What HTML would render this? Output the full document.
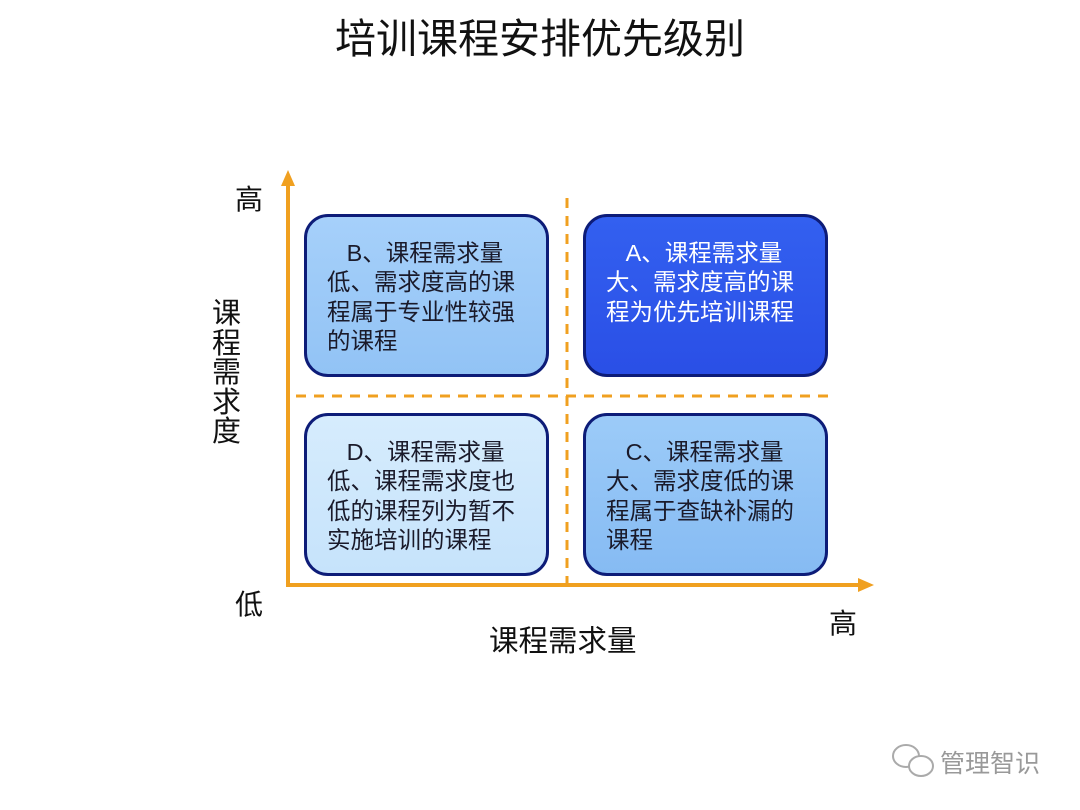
<!DOCTYPE html>
<html><head><meta charset="utf-8"><style>
body{margin:0;width:1080px;height:810px;background:#fff;position:relative;overflow:hidden;font-family:"Liberation Sans","Noto Sans CJK SC",sans-serif;}
.t{position:absolute;white-space:nowrap;color:#111;}
.box{position:absolute;width:239px;height:157px;border:3px solid #0d1c78;border-radius:24px;box-sizing:content-box;}
.box div{position:absolute;left:20px;top:22px;font-size:23.5px;line-height:29.3px;color:#1a1a2a;width:230px;}
</style></head><body>
<div class="t" style="left:0;width:1080px;text-align:center;top:5px;font-size:41px;">培训课程安排优先级别</div>
<svg width="1080" height="810" style="position:absolute;left:0;top:0">
<line x1="288" y1="585" x2="288" y2="180" stroke="#f0a020" stroke-width="4"/>
<polygon points="288,170 281,186 295,186" fill="#f0a020"/>
<line x1="286" y1="585" x2="864" y2="585" stroke="#f0a020" stroke-width="4"/>
<polygon points="874,585 858,578 858,592" fill="#f0a020"/>
<line x1="567" y1="198" x2="567" y2="584" stroke="#f0a020" stroke-width="3" stroke-dasharray="10,8"/>
<line x1="296" y1="396" x2="834" y2="396" stroke="#f0a020" stroke-width="3" stroke-dasharray="10,8"/>
<g fill="none" stroke="#aaa" stroke-width="2">
<ellipse cx="906" cy="756" rx="13" ry="11"/>
<ellipse cx="921" cy="766" rx="12" ry="10" fill="#fff"/>
</g>
</svg>
<div class="box" style="left:304px;top:214px;background:linear-gradient(#a6d0fa,#92c3f5);"><div>&nbsp;&nbsp;&nbsp;B、课程需求量<br>低、需求度高的课<br>程属于专业性较强<br>的课程</div></div>
<div class="box" style="left:583px;top:214px;background:linear-gradient(#3360f0,#2a4fe6);"><div style="color:#fff">&nbsp;&nbsp;&nbsp;A、课程需求量<br>大、需求度高的课<br>程为优先培训课程</div></div>
<div class="box" style="left:304px;top:413px;background:linear-gradient(#d6ecfd,#c6e3fb);"><div>&nbsp;&nbsp;&nbsp;D、课程需求量<br>低、课程需求度也<br>低的课程列为暂不<br>实施培训的课程</div></div>
<div class="box" style="left:583px;top:413px;background:linear-gradient(#9ccbf8,#86bbf3);"><div>&nbsp;&nbsp;&nbsp;C、课程需求量<br>大、需求度低的课<br>程属于查缺补漏的<br>课程</div></div>
<div class="t" style="left:235px;top:178px;font-size:28px;">高</div>
<div class="t" style="left:235px;top:583px;font-size:28px;">低</div>
<div class="t" style="left:829px;top:602px;font-size:28px;">高</div>
<div class="t" style="left:489px;top:618px;font-size:29.5px;">课程需求量</div>
<div class="t" style="left:212px;top:300px;font-size:29px;line-height:29.5px;white-space:normal;width:30px;">课程需求度</div>
<div class="t" style="left:940px;top:744px;font-size:25px;color:#999;">管理智识</div>
</body></html>
